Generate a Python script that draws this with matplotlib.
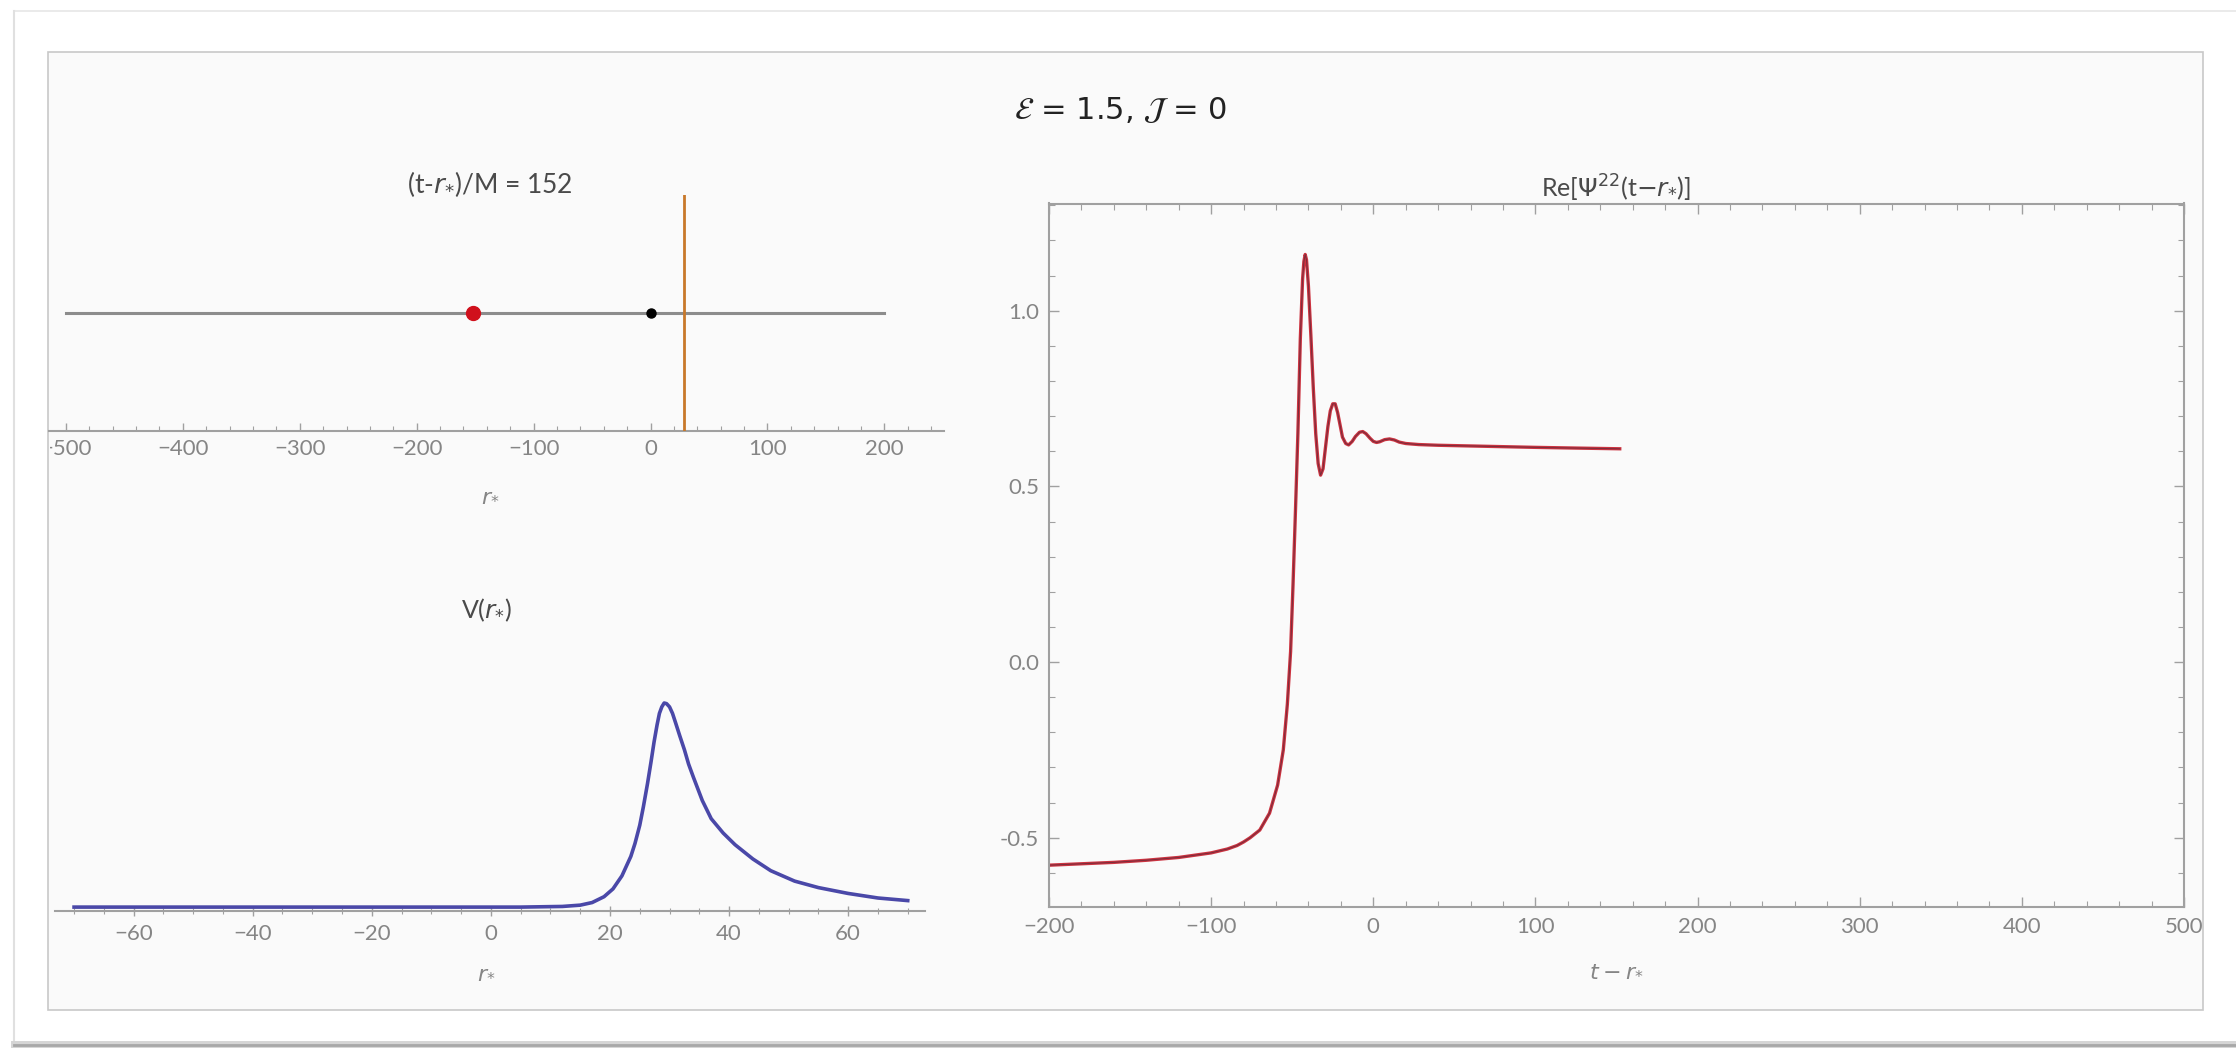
import matplotlib
matplotlib.use('Agg')
import matplotlib.pyplot as plt
from matplotlib.patches import Rectangle
from matplotlib.lines import Line2D
from matplotlib.ticker import MultipleLocator
from matplotlib.transforms import Bbox, TransformedBbox

# --- data ---
# top-left strip: domain, particle position, origin, potential peak
strip_x = [-500, 200]
strip_y = [1, 1]
particle_r = -152
origin_r = 0
peak_r = 28.5

# bottom-left: potential V(r*)
r_star = [-70, -50, -30, -10, 5, 12, 15, 17, 19, 20.5, 22, 23.5, 24.2, 25, 25.6, 26.3,
          26.9, 27.4, 27.9, 28.3, 28.7, 29.1, 29.5, 30, 30.5, 31, 31.7, 32.5, 33.2, 34,
          35.5, 37, 39, 41, 44, 47, 51, 55, 60, 65, 70]
V = [0.003, 0.003, 0.003, 0.003, 0.003, 0.0035, 0.0045, 0.0065, 0.011, 0.017, 0.027,
     0.042, 0.052, 0.066, 0.080, 0.098, 0.115, 0.130, 0.143, 0.152, 0.157, 0.160,
     0.1595, 0.157, 0.152, 0.145, 0.135, 0.124, 0.113, 0.103, 0.085, 0.071, 0.060,
     0.051, 0.040, 0.031, 0.023, 0.018, 0.0135, 0.010, 0.008]

# right: Re[Psi22(t - r*)]
t_ret = [-200, -180, -160, -140, -120, -100, -90, -84, -80, -76, -70, -64, -59, -55.5,
         -53, -51, -49.5, -48, -46.5, -45, -43.6, -42.8, -42, -41.2, -40, -38.5, -37,
         -35.5, -34, -32.5, -31, -29.5, -28, -26.5, -25, -23.5, -22, -20.5, -19, -17,
         -15.2, -13, -11, -8.5, -6.5, -4.5, -2, 0, 2, 4, 7, 10, 13, 16, 20, 28, 40, 60,
         80, 100, 125, 152]
psi_re = [-0.578, -0.574, -0.570, -0.564, -0.556, -0.543, -0.532, -0.522, -0.512,
          -0.500, -0.478, -0.430, -0.350, -0.250, -0.120, 0.030, 0.220, 0.430, 0.650,
          0.920, 1.090, 1.140, 1.160, 1.145, 1.070, 0.930, 0.780, 0.650, 0.565, 0.532,
          0.550, 0.610, 0.670, 0.715, 0.735, 0.735, 0.710, 0.675, 0.640, 0.622, 0.618,
          0.628, 0.642, 0.654, 0.656, 0.650, 0.637, 0.628, 0.625, 0.627, 0.633, 0.635,
          0.632, 0.626, 0.622, 0.619, 0.617, 0.615, 0.613, 0.611, 0.609, 0.607]

W, H = 2236, 1048
plt.rcParams['font.family'] = ['Lato', 'DejaVu Sans']
plt.rcParams['mathtext.fontset'] = 'dejavusans'
tick_col = '#858585'
axis_col = '#a0a0a0'
text_col = '#4a4a4a'

fig = plt.figure(figsize=(W / 100, H / 100), dpi=100, facecolor='white')


def fx(px):
    return px / W


def fy(py):
    return 1 - py / H


# card and inner panel
fig.add_artist(Line2D([fx(14), fx(2236)], [fy(11), fy(11)], transform=fig.transFigure,
                      color='#e6e6e6', lw=1.2))
fig.add_artist(Line2D([fx(14), fx(14)], [fy(11), fy(1045)], transform=fig.transFigure,
                      color='#e0e0e0', lw=1.5))
fig.add_artist(Line2D([fx(14), fx(2236)], [fy(1044), fy(1044)], transform=fig.transFigure,
                      color='#d5d5d5', lw=5))
fig.add_artist(Line2D([fx(14), fx(2236)], [fy(1045), fy(1045)], transform=fig.transFigure,
                      color='#a8a8a8', lw=2))
fig.patches.append(Rectangle((fx(48), fy(1010)), fx(2203) - fx(48), fy(52) - fy(1010),
                             transform=fig.transFigure, facecolor='#fafafa',
                             edgecolor='#c8c8c8', lw=1.2, zorder=-5))

# main title
fig.text(fx(1121), fy(110), r'$\mathcal{E}$ = 1.5, $\mathcal{J}$ = 0', ha='center',
         va='center', fontsize=22, color='#222222', math_fontfamily='stix',
         family='DejaVu Sans')

# ---------- top-left: position strip ----------
ax1 = fig.add_axes([fx(49), fy(431), fx(944) - fx(49), fy(195) - fy(431)])
ax1.set_facecolor('none')
ax1.plot(strip_x, strip_y, color='#8c8c8c', lw=2.2, zorder=2)
ax1.plot([particle_r], [1], 'o', color='#d0101c', ms=10, zorder=4)
ax1.plot([origin_r], [1], 'o', color='black', ms=6.5, zorder=4)
ax1.plot([peak_r, peak_r], [0, 2], color='#c8782a', lw=2, zorder=3)
ax1.set_xlim(-514.5, 251)
ax1.set_ylim(0, 2)
for s in ['top', 'left', 'right']:
    ax1.spines[s].set_visible(False)
ax1.spines['bottom'].set_color(axis_col)
ax1.spines['bottom'].set_linewidth(1.5)
ax1.set_yticks([])
ax1.xaxis.set_major_locator(MultipleLocator(100))
ax1.xaxis.set_minor_locator(MultipleLocator(20))
ax1.tick_params(axis='x', which='major', direction='in', length=6, width=1,
                color=axis_col, labelcolor=tick_col, labelsize=16, pad=6)
ax1.tick_params(axis='x', which='minor', direction='in', length=3.5, width=0.8,
                color=axis_col)
fig.text(fx(490), fy(184), r'(t-$r_{*}$)/M = 152', ha='center', va='center',
         fontsize=19, color=text_col)
fig.text(fx(490), fy(495), r'$r_{*}$', ha='center', va='center', fontsize=16,
         color=tick_col)

# ---------- bottom-left: potential ----------
ax2 = fig.add_axes([fx(55), fy(911), fx(925) - fx(55), fy(651) - fy(911)])
ax2.set_facecolor('none')
ax2.plot(r_star, V, color='#4a48a8', lw=2.6)
ax2.set_xlim(-73.2, 72.9)
ax2.set_ylim(0, 0.2)
for s in ['top', 'left', 'right']:
    ax2.spines[s].set_visible(False)
ax2.spines['bottom'].set_color(axis_col)
ax2.spines['bottom'].set_linewidth(1.5)
ax2.set_yticks([])
ax2.xaxis.set_major_locator(MultipleLocator(20))
ax2.xaxis.set_minor_locator(MultipleLocator(5))
ax2.tick_params(axis='x', which='major', direction='inout', length=7, width=1,
                color=axis_col, labelcolor=tick_col, labelsize=16, pad=6)
ax2.tick_params(axis='x', which='minor', direction='inout', length=4, width=0.8,
                color=axis_col)
fig.text(fx(486), fy(610), r'V($r_{*}$)', ha='center', va='center', fontsize=18,
         color=text_col)
fig.text(fx(486), fy(972), r'$r_{*}$', ha='center', va='center', fontsize=16,
         color=tick_col)

# ---------- right: waveform ----------
ax3 = fig.add_axes([fx(1049), fy(907), fx(2184) - fx(1049), fy(203.5) - fy(907)])
ax3.set_facecolor('none')
ax3.plot(t_ret, psi_re, color='#cc3340', lw=2.4)
ax3.plot(t_ret, psi_re, color='#5c2a3a', lw=0.8, alpha=0.7)
ax3.set_xlim(-200, 500)
ax3.set_ylim(-0.697, 1.305)
for s in ax3.spines.values():
    s.set_color(axis_col)
    s.set_linewidth(1.5)
ax3.xaxis.set_major_locator(MultipleLocator(100))
ax3.xaxis.set_minor_locator(MultipleLocator(20))
ax3.yaxis.set_major_locator(MultipleLocator(0.5))
ax3.yaxis.set_minor_locator(MultipleLocator(0.1))
ax3.tick_params(which='major', direction='in', length=7, width=1, color=axis_col,
                labelcolor=tick_col, labelsize=16, top=True, right=True, pad=7)
ax3.tick_params(which='minor', direction='in', length=4, width=0.8, color=axis_col,
                top=True, right=True)
ax3.yaxis.set_major_formatter(plt.FuncFormatter(lambda v, p: f'{v:.1f}'))
fig.text(fx(1616), fy(187), r'Re[$\Psi^{22}$(t$-$$r_{*}$)]', ha='center', va='center',
         fontsize=18, color=text_col)
fig.text(fx(1616), fy(970), r'$t-r_{*}$', ha='center', va='center', fontsize=16,
         color=tick_col)

# clip the strip tick labels at the panel border, as in the screen capture
clip = TransformedBbox(Bbox([[fx(50), 0], [1, 1]]), fig.transFigure)
for lbl in ax1.get_xticklabels():
    lbl.set_clip_on(True)
    lbl.set_clip_box(clip)

fig.savefig('out.png', dpi=100, facecolor='white')
